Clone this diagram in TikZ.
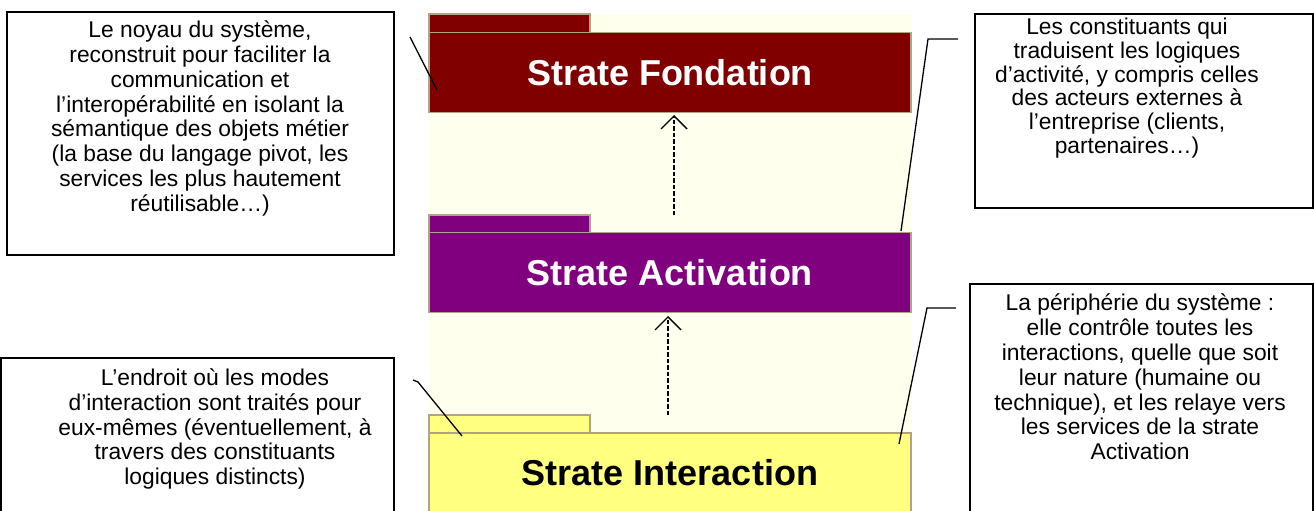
\documentclass[tikz,border=0pt]{standalone}
\usepackage{fontspec}
\setmainfont{Liberation Sans}
\usetikzlibrary{arrows.meta}
\definecolor{bgivory}{HTML}{FFFFEE}
\definecolor{fondred}{HTML}{800000}
\definecolor{actpurple}{HTML}{800080}
\definecolor{interyellow}{HTML}{FFFF80}
\definecolor{pkgborder}{RGB}{176,164,132}
\begin{document}
\begin{tikzpicture}[x=1pt,y=-1pt,
  pkgbody/.style={draw=pkgborder, line width=1.5pt, rectangle, inner sep=0pt,
    minimum width=482pt, minimum height=80pt, font=\fontsize{36}{40}\selectfont\bfseries},
  pkgtab/.style={draw=pkgborder, line width=1.5pt},
  notebox/.style={draw=black, line width=1.6pt},
  notetext/.style={align=center, font=\fontsize{22.8}{24.8}\selectfont, inner sep=0pt},
  callout/.style={draw=black, line width=1.3pt},
  dep/.style={draw=black, line width=1.3pt, dash pattern=on 4.5pt off 2pt,
    -{Straight Barb[length=13pt,width=26pt,line width=1.4pt]}}]
\useasboundingbox (0,0) rectangle (1314,511);
\clip (0,0) rectangle (1314,511);
% background of the diagram
\fill[bgivory] (429,14) rectangle (912,520);
% packages
\draw[pkgtab, fill=fondred] (429,14) rectangle (590,32.5);
\node[pkgbody, fill=fondred, text=white] (fond) at (670,72.5) {Strate Fondation};
\draw[pkgtab, fill=actpurple] (429,215) rectangle (590,232.5);
\node[pkgbody, fill=actpurple, text=white] (act) at (670,272.5) {Strate Activation};
\draw[pkgtab, fill=interyellow] (429,415) rectangle (590,433);
\node[pkgbody, fill=interyellow, text=black] (inter) at (670,473) {Strate Interaction};
% dependencies
\coordinate (d1s) at (674,215);
\coordinate (d1e) at (674,115);
\coordinate (d2s) at (668,415);
\coordinate (d2e) at (668,316);
\draw[dep] (d1s) -- (d1e);
\draw[dep] (d2s) -- (d2e);
% note boxes
\draw[notebox] (7,12) rectangle (394,255);
\node[notetext] (n1) at (200,118.5) {Le noyau du système,\\reconstruit pour faciliter la\\communication et\\l’interopérabilité en isolant la\\sémantique des objets métier\\(la base du langage pivot, les\\services les plus hautement\\réutilisable…)};
\draw[notebox] (1,358) rectangle (394,530);
\node[notetext] (n3) at (215,429) {L’endroit où les modes\\d’interaction sont traités pour\\eux-mêmes (éventuellement, à\\travers des constituants\\logiques distincts)};
\draw[notebox] (975,14) rectangle (1313,208);
\node[notetext, font=\fontsize{22.8}{23.7}\selectfont] (n4) at (1127,88) {Les constituants qui\\traduisent les logiques\\d’activité, y compris celles\\des acteurs externes à\\l’entreprise (clients,\\partenaires…)};
\draw[notebox] (970,284) rectangle (1313,530);
\node[notetext] (n5) at (1140,377) {La périphérie du système :\\elle contrôle toutes les\\interactions, quelle que soit\\leur nature (humaine ou\\technique), et les relaye vers\\les services de la strate\\Activation};
% callout pointers
\coordinate (c1a) at (410,37);
\coordinate (c1b) at (437,90);
\draw[callout] (c1a) -- (c1b);
\coordinate (c2a) at (958,39);
\coordinate (c2k) at (928,39);
\coordinate (c2b) at (901,231);
\draw[callout] (c2a) -- (c2k) -- (c2b);
\coordinate (c3a) at (413,380);
\coordinate (c3k) at (418,382);
\coordinate (c3b) at (462,436);
\draw[callout] (c3a) -- (c3k) -- (c3b);
\coordinate (c4a) at (956,308);
\coordinate (c4k) at (927,308);
\coordinate (c4b) at (899,444);
\draw[callout] (c4a) -- (c4k) -- (c4b);
\end{tikzpicture}
\end{document}
